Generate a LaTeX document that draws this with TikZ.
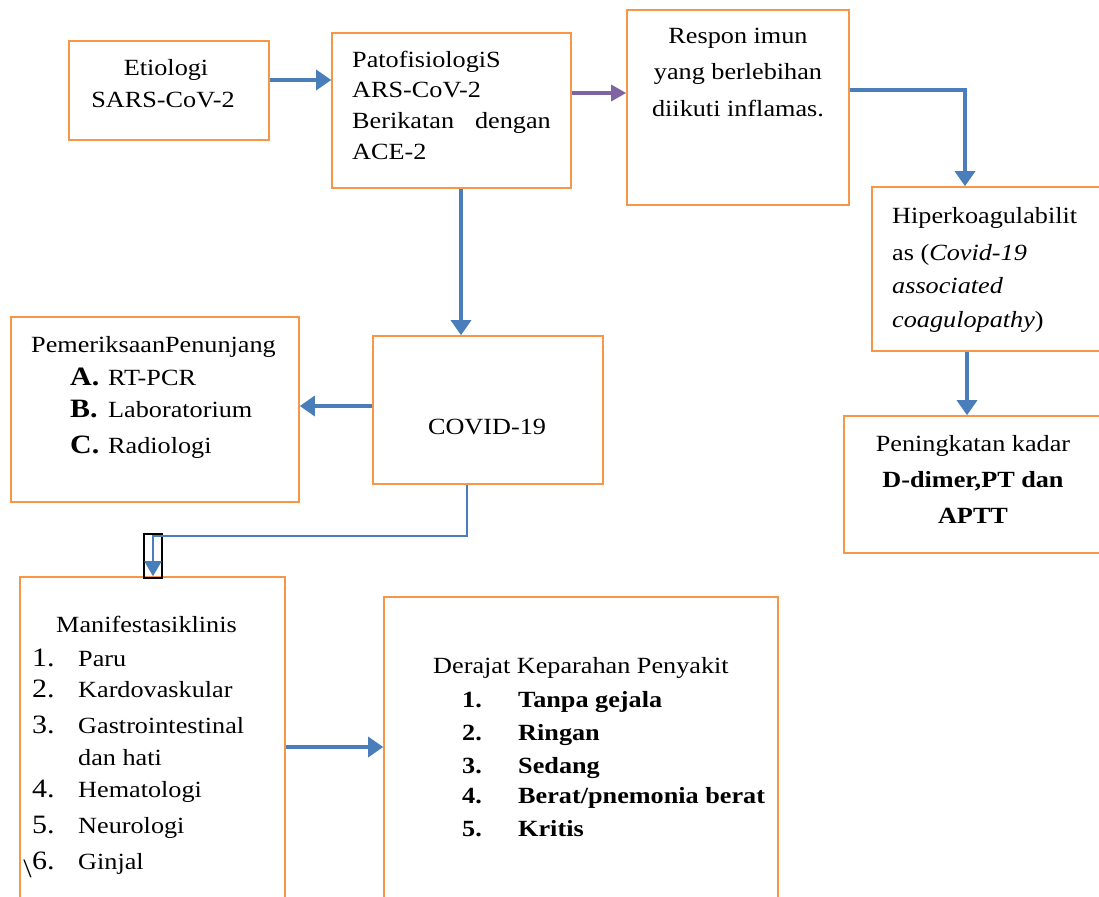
\documentclass[tikz,border=0pt]{standalone}
\usepackage{fontspec}
\setmainfont{Liberation Serif}[FakeStretch=1.13]
\usetikzlibrary{arrows.meta}
\definecolor{boxorange}{HTML}{F79646}
\definecolor{arrblue}{HTML}{4A7EBB}
\definecolor{arrpurple}{HTML}{8064A2}
\tikzset{
  box/.style={draw=boxorange, line width=1.6pt, inner sep=0pt, fill=white},
  arr/.style={draw=arrblue, line width=3.2pt, -{Triangle[width=20pt,length=15pt]}},
  arrthin/.style={draw=arrblue, line width=2pt, -{Triangle[width=17pt,length=15pt]}},
  txt/.style={inner sep=0pt, font=\fontsize{23.2}{28}\selectfont},
  big/.style={inner sep=0pt, font=\fontsize{26.5}{30}\selectfont},
}
\begin{document}
\begin{tikzpicture}[x=1pt,y=-1pt]
\clip (0,0) rectangle (1099,896);
\fill[white] (0,0) rectangle (1099,896);
% boxes
\node[box, minimum width=200, minimum height=99] (etio) at (169,90.5) {};
\node[box, minimum width=239, minimum height=155] (pato) at (451.5,110.5) {};
\node[box, minimum width=222, minimum height=195] (resp) at (738,107.5) {};
\node[box, minimum width=238, minimum height=164] (hiper) at (991,269) {};
\node[box, minimum width=266, minimum height=137] (pen) at (977,484.5) {};
\node[box, minimum width=230, minimum height=148] (covid) at (488,410) {};
\node[box, minimum width=288, minimum height=185] (pem) at (155,409.5) {};
\node[box, minimum width=265, minimum height=333] (man) at (152.5,743.5) {};
\node[box, minimum width=394, minimum height=313] (der) at (581,753.5) {};
\node[draw=black, line width=1.3pt, inner sep=0pt, minimum width=18, minimum height=44] (mark) at (153,556) {};
% connectors
\draw[arr] ([yshift=10.5pt]etio.east) -- ([yshift=30.5pt]pato.west);
\draw[arr, draw=arrpurple, -{Triangle[width=16pt,length=15pt]}] ([yshift=17.5pt]pato.east) -- ([yshift=14.5pt]resp.west);
\draw[arr] ([yshift=17.5pt]resp.east) -| ([xshift=-26pt]hiper.north);
\draw[arr] ([xshift=9.5pt]pato.south) -- ([xshift=-27pt]covid.north);
\draw[arr] ([yshift=4pt]covid.west) -- ([yshift=3.5pt]pem.east);
\draw[arrthin] ([xshift=-21pt]covid.south) -- ++(0,51) -| ([xshift=0.5pt]man.north);
\draw[arr] ([xshift=-24pt]hiper.south) -- ([xshift=-10pt]pen.north);
\draw[arr] ([yshift=-3.5pt]man.east) -- ([yshift=-3.5pt]man.east -| der.west);
% texts
\node[txt, anchor=base] (t1) at (166,76) {Etiologi};
\node[txt, anchor=base] (t2) at (163,108) {SARS-CoV-2};
\node[txt, anchor=base west] (p1) at (352,68) {PatofisiologiS};
\node[txt, anchor=base west] (p2) at (352,98) {ARS-CoV-2};
\node[txt, anchor=base west] (p3) at (352,129) {Berikatan};
\node[txt, anchor=base east] (p3b) at (551,129) {dengan};
\node[txt, anchor=base west] (p4) at (352,160) {ACE-2};
\node[txt, anchor=base] (r1) at (738,44) {Respon imun};
\node[txt, anchor=base] (r2) at (738,80) {yang berlebihan};
\node[txt, anchor=base] (r3) at (738,117) {diikuti inflamas.};
\node[txt, anchor=base west] (h1) at (892,223) {Hiperkoagulabilit};
\node[txt, anchor=base west] (h2) at (892,260) {as (\textit{Covid-19}};
\node[txt, anchor=base west] (h3) at (892,293) {\textit{associated}};
\node[txt, anchor=base west] (h4) at (892,327) {\textit{coagulopathy})};
\node[txt, anchor=base] (k1) at (973,451) {Peningkatan kadar};
\node[txt, anchor=base] (k2) at (973,487) {\textbf{D-dimer,PT dan}};
\node[txt, anchor=base] (k3) at (973,523) {\textbf{APTT}};
\node[txt, anchor=base] (c1) at (487,434) {COVID-19};
\node[txt, anchor=base west] (e0) at (31,352) {PemeriksaanPenunjang};
\node[big, anchor=base west] (eA) at (70,385) {\textbf{A.}};
\node[txt, anchor=base west] (eAt) at (108,385) {RT-PCR};
\node[big, anchor=base west] (eB) at (70,417) {\textbf{B.}};
\node[txt, anchor=base west] (eBt) at (108,417) {Laboratorium};
\node[big, anchor=base west] (eC) at (70,453) {\textbf{C.}};
\node[txt, anchor=base west] (eCt) at (108,453) {Radiologi};
\node[txt, anchor=base west] (m0) at (56,632) {Manifestasiklinis};
\node[big, anchor=base west] (m1n) at (32,666) {1.};
\node[txt, anchor=base west] (m1) at (78,666) {Paru};
\node[big, anchor=base west] (m2n) at (32,697) {2.};
\node[txt, anchor=base west] (m2) at (78,697) {Kardovaskular};
\node[big, anchor=base west] (m3n) at (32,733) {3.};
\node[txt, anchor=base west] (m3) at (78,733) {Gastrointestinal};
\node[txt, anchor=base west] (m3b) at (78,765) {dan hati};
\node[big, anchor=base west] (m4n) at (32,797) {4.};
\node[txt, anchor=base west] (m4) at (78,797) {Hematologi};
\node[big, anchor=base west] (m5n) at (32,833) {5.};
\node[txt, anchor=base west] (m5) at (78,833) {Neurologi};
\node[big, anchor=base west] (m6n) at (32,869) {6.};
\node[txt, anchor=base west] (m6) at (78,869) {Ginjal};
\node[big, anchor=base east] (bs) at (32,877) {\textbackslash};
\node[txt, anchor=base west] (d0) at (433,673) {Derajat Keparahan Penyakit};
\node[txt, anchor=base west] (d1n) at (462,707) {\textbf{1.}};
\node[txt, anchor=base west] (d1) at (518,707) {\textbf{Tanpa gejala}};
\node[txt, anchor=base west] (d2n) at (462,740) {\textbf{2.}};
\node[txt, anchor=base west] (d2) at (518,740) {\textbf{Ringan}};
\node[txt, anchor=base west] (d3n) at (462,773) {\textbf{3.}};
\node[txt, anchor=base west] (d3) at (518,773) {\textbf{Sedang}};
\node[txt, anchor=base west] (d4n) at (462,803) {\textbf{4.}};
\node[txt, anchor=base west] (d4) at (518,803) {\textbf{Berat/pnemonia berat}};
\node[txt, anchor=base west] (d5n) at (462,836) {\textbf{5.}};
\node[txt, anchor=base west] (d5) at (518,836) {\textbf{Kritis}};
\end{tikzpicture}
\end{document}
